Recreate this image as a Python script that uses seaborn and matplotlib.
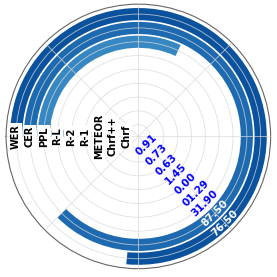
import numpy as np
import pandas as pd
import matplotlib
matplotlib.use("Agg")
import matplotlib.pyplot as plt
import seaborn as sns

# ---------------------------
# Data (inner ring -> outer ring)
# ---------------------------
metrics = ["Chrf", "Chrf++", "METEOR", "R-1", "R-2", "R-L", "PPL", "CER", "WER"]
scores = [0.91, 0.73, 0.63, 1.45, 0.00, 1.29, 31.90, 87.50, 76.50]
score_labels = ["0.91", "0.73", "0.63", "1.45", "0.00", "01.29", "31.90", "87.50", "76.50"]
bar_colors = ["#cfe2f2", "#bcd7ec", "#a6cde6", "#8fc0e0", "#79b3da", "#62a4d3",
              "#3787c2", "#1d6ab0", "#0a529d"]

full_ring = 100.0

df = pd.DataFrame({"metric": metrics, "score": scores})
df["theta"] = df["score"] / full_ring * 2 * np.pi

# ---------------------------
# Plot
# ---------------------------
sns.set_style("white")
fig = plt.figure(figsize=(2.77, 2.77), dpi=100)
ax = fig.add_axes([0.022, 0.03, 0.955, 0.955], projection="polar")

sns.barplot(
    data=df, x="theta", y="metric", hue="metric", order=metrics,
    palette=dict(zip(metrics, bar_colors)), orient="h", saturation=1,
    errorbar=None, legend=False, width=0.88, linewidth=0, ax=ax,
)

ax.set_theta_zero_location("W")
ax.set_theta_direction(-1)
ax.set_ylim(-0.85, 8.72)

ax.set_xlabel("")
ax.set_ylabel("")
ax.set_yticks(range(len(metrics)))
ax.set_yticklabels([])
ax.set_xticks(np.linspace(0, 2 * np.pi, 8, endpoint=False))
ax.set_xticklabels([])
ax.set_axisbelow(False)
ax.grid(True, color="#d9d9d9", linewidth=0.6, alpha=0.8)
ax.spines["polar"].set_color("#666666")
ax.spines["polar"].set_linewidth(0.8)

# metric names along the west ray
for i, name in enumerate(metrics):
    ax.text(0, i, name, rotation=90, ha="center", va="center",
            fontsize=7, fontweight="bold", color="black",
            bbox=dict(facecolor="white", edgecolor="none", pad=0.6))

# score labels along the south-east ray
label_theta = 5 * np.pi / 4
for i, (val, lab) in enumerate(zip(scores, score_labels)):
    col = "white" if val / full_ring * 2 * np.pi > label_theta else "blue"
    ax.text(label_theta, i, lab, rotation=45, ha="center", va="center",
            fontsize=7.5, fontweight="bold", color=col)

plt.savefig("out.png", dpi=100)
plt.close()
